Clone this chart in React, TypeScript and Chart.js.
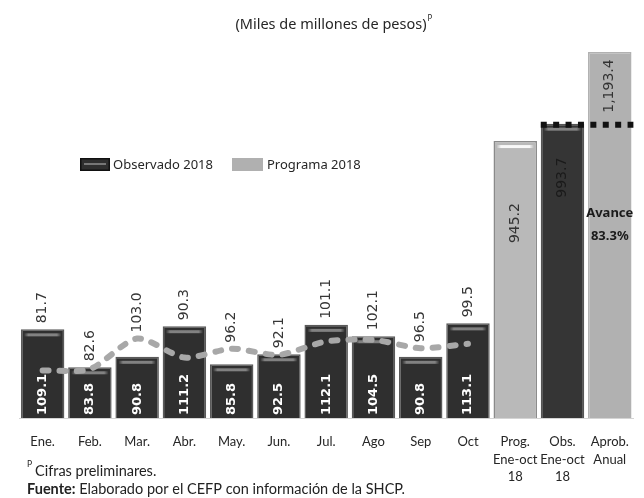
import React, { useEffect, useRef } from "react";
import { Chart, registerables } from "chart.js";

Chart.register(...registerables);

// ---- data ----
const months = ["Ene.", "Feb.", "Mar.", "Abr.", "May.", "Jun.", "Jul.", "Ago", "Sep", "Oct"];
const summaryLabels = [["Prog.", "Ene-oct", "18"], ["Obs.", "Ene-oct", "18"], ["Aprob.", "Anual"]];
const observado2018 = [109.1, 83.8, 90.8, 111.2, 85.8, 92.5, 112.1, 104.5, 90.8, 113.1];
const programa2018 = [81.7, 82.6, 103.0, 90.3, 96.2, 92.1, 101.1, 102.1, 96.5, 99.5];
const acumulado = [945.2, 993.7, 1193.4]; // Prog. ene-oct, Obs. ene-oct, Aprob. anual
const titleText = "(Miles de millones de pesos)";
const legendLabels = ["Observado 2018", "Programa 2018"];
const footnote1 = "Cifras preliminares.";
const sourceBold = "Fuente:";
const sourceText = " Elaborado por el CEFP con información de la SHCP.";
const avanceLabel = "Avance";

// ---- styles ----
const DARK = "#2f2f2f";
const DARK_BORDER = "#5a5a5a";
const summaryFill = ["#b9b9b9", "#353535", "#b1b1b1"];
const summaryBorder = ["#8a8a8a", "#555555", "#b1b1b1"];
const summaryBevel = ["light", "dark", ""];
const summaryLabelColor = ["#333333", "#1a1a1a", "#333333"];
const summaryLabelOffset = [82, 54, 34];

const fmt1 = (v: number) =>
  v.toLocaleString("en-US", { minimumFractionDigits: 1, maximumFractionDigits: 1 });

function drawBevel(ctx: CanvasRenderingContext2D, x: number, y: number, w: number, kind: string) {
  if (!kind) return;
  const left = x - w / 2 + 3;
  const right = x + w / 2 - 3;
  const col = kind === "dark" ? "rgba(150,150,150,0.8)" : "rgba(255,255,255,0.9)";
  const clear = kind === "dark" ? "rgba(150,150,150,0)" : "rgba(255,255,255,0)";
  const g = ctx.createLinearGradient(left, 0, right, 0);
  g.addColorStop(0, clear);
  g.addColorStop(0.12, col);
  g.addColorStop(0.88, col);
  g.addColorStop(1, clear);
  ctx.save();
  ctx.fillStyle = g;
  ctx.fillRect(left, y + 4, right - left, 3);
  ctx.restore();
}

const overlayPlugin = {
  id: "overlay",
  afterDatasetDraw(chart: any, args: any) {
    const meta = args.meta;
    if (meta.type !== "bar") return;
    const ctx = chart.ctx;
    const ds = chart.data.datasets[args.index];
    meta.data.forEach((el: any, i: number) => {
      if (ds.data[i] == null) return;
      const kind = args.index === 0 ? "dark" : summaryBevel[i - months.length];
      drawBevel(ctx, el.x, el.y, el.width, kind);
    });
  },
  afterDatasetsDraw(chart: any) {
    const ctx: CanvasRenderingContext2D = chart.ctx;
    const yS = chart.scales.y;
    const y2S = chart.scales.y2;
    const barMeta = chart.getDatasetMeta(0);
    const lineMeta = chart.getDatasetMeta(1);
    const sumMeta = chart.getDatasetMeta(2);
    const base = yS.getPixelForValue(yS.min);

    // observed values inside bars
    observado2018.forEach((v, i) => {
      const el = barMeta.data[i];
      ctx.save();
      ctx.translate(el.x, base - 3);
      ctx.rotate(-Math.PI / 2);
      ctx.font = "bold 13px 'DejaVu Sans'";
      ctx.fillStyle = "#ffffff";
      ctx.textAlign = "left";
      ctx.textBaseline = "middle";
      ctx.fillText(fmt1(v), 0, 0);
      ctx.restore();
    });

    // programmed values above
    programa2018.forEach((v, i) => {
      const el = barMeta.data[i];
      const pt = lineMeta.data[i];
      const top = Math.min(el.y, pt.y) - 6;
      ctx.save();
      ctx.translate(el.x, top);
      ctx.rotate(-Math.PI / 2);
      ctx.font = "14px 'DejaVu Sans'";
      ctx.fillStyle = "#363636";
      ctx.textAlign = "left";
      ctx.textBaseline = "middle";
      ctx.fillText(fmt1(v), 0, 0);
      ctx.restore();
    });

    // accumulated bars labels
    acumulado.forEach((v, j) => {
      const el = sumMeta.data[months.length + j];
      ctx.save();
      ctx.translate(el.x, el.y + summaryLabelOffset[j]);
      ctx.rotate(-Math.PI / 2);
      ctx.font = "14px 'DejaVu Sans'";
      ctx.fillStyle = summaryLabelColor[j];
      ctx.textAlign = "center";
      ctx.textBaseline = "middle";
      ctx.fillText(fmt1(v), 0, 0);
      ctx.restore();
    });

    // dotted marker of observed total across annual bar
    const obsEl = sumMeta.data[months.length + 1];
    const aprEl = sumMeta.data[months.length + 2];
    const yObs = y2S.getPixelForValue(acumulado[1]) + 1;
    ctx.save();
    ctx.strokeStyle = "#111111";
    ctx.lineWidth = 6;
    ctx.lineCap = "butt";
    ctx.setLineDash([6, 6.4]);
    ctx.beginPath();
    ctx.moveTo(obsEl.x - obsEl.width / 2, yObs);
    ctx.lineTo(chart.chartArea.right, yObs);
    ctx.stroke();
    ctx.restore();

    // Avance
    const pct = ((acumulado[1] / acumulado[2]) * 100).toFixed(1) + "%";
    ctx.save();
    ctx.fillStyle = "#1a1a1a";
    ctx.textAlign = "center";
    ctx.textBaseline = "middle";
    ctx.font = "bold 13px 'Noto Sans'";
    ctx.fillText(avanceLabel, aprEl.x, yObs + 89);
    ctx.fillText(pct, aprEl.x, yObs + 112);
    ctx.restore();
  },
  afterDraw(chart: any) {
    const ctx: CanvasRenderingContext2D = chart.ctx;
    ctx.save();
    // title
    ctx.fillStyle = "#262626";
    ctx.textBaseline = "middle";
    ctx.font = "14.5px 'Noto Sans'";
    const tw = ctx.measureText(titleText).width;
    const tx = 331 - tw / 2;
    ctx.textAlign = "left";
    ctx.fillText(titleText, tx, 25);
    ctx.font = "8px 'Noto Sans'";
    ctx.fillText("P", tx + tw + 1, 19);

    // legend
    ctx.fillStyle = "#111111";
    ctx.fillRect(80, 158, 30, 13);
    ctx.fillStyle = DARK;
    ctx.fillRect(81.5, 159.5, 27, 10);
    ctx.fillStyle = "rgba(150,150,150,0.7)";
    ctx.fillRect(84, 163, 22, 2);
    ctx.fillStyle = "#b0b0b0";
    ctx.fillRect(232, 158, 31, 13);
    ctx.fillStyle = "#262626";
    ctx.font = "13px 'Noto Sans'";
    ctx.fillText(legendLabels[0], 113, 165);
    ctx.fillText(legendLabels[1], 267, 165);

    // footnotes
    ctx.fillStyle = "#222222";
    ctx.font = "8.5px Lato";
    ctx.fillText("P", 27, 464);
    ctx.font = "14.5px Lato";
    ctx.fillText(footnote1, 35, 471);
    ctx.font = "bold 14.5px Lato";
    ctx.fillText(sourceBold, 27, 489);
    const bw = ctx.measureText(sourceBold).width;
    ctx.font = "14.5px Lato";
    ctx.fillText(sourceText, 27 + bw, 489);
    ctx.restore();
  },
};

export default function App() {
  const ref = useRef<HTMLCanvasElement>(null);
  useEffect(() => {
    const canvas = ref.current;
    if (!canvas) return;
    const labels: any[] = [...months, ...summaryLabels];
    const pad = summaryLabels.map(() => null);
    const lead = months.map(() => null);
    const chart = new Chart(canvas, {
      type: "bar",
      data: {
        labels,
        datasets: [
          {
            type: "bar",
            label: legendLabels[0],
            data: [...observado2018, ...pad],
            yAxisID: "y",
            backgroundColor: DARK,
            borderColor: DARK_BORDER,
            borderWidth: 1.5,
            grouped: false,
            barPercentage: 0.92,
            categoryPercentage: 1,
            order: 2,
          } as any,
          {
            type: "line",
            label: legendLabels[1],
            data: [...programa2018, ...pad],
            yAxisID: "y",
            borderColor: "#a8a8a8",
            borderWidth: 6,
            borderDash: [6, 11],
            borderCapStyle: "round",
            pointRadius: 0,
            tension: 0.25,
            fill: false,
            order: 0,
          } as any,
          {
            type: "bar",
            label: "Acumulado",
            data: [...lead, ...acumulado],
            yAxisID: "y2",
            backgroundColor: (c: any) => summaryFill[c.dataIndex - months.length] || DARK,
            borderColor: (c: any) => summaryBorder[c.dataIndex - months.length] || DARK_BORDER,
            borderWidth: 1.5,
            grouped: false,
            barPercentage: 0.92,
            categoryPercentage: 1,
            order: 1,
          } as any,
        ],
      },
      options: {
        responsive: false,
        animation: false,
        devicePixelRatio: 1,
        layout: { padding: { top: 40, left: 19, right: 3, bottom: 0 } },
        plugins: {
          legend: { display: false },
          tooltip: { enabled: false },
          title: { display: false },
        },
        scales: {
          x: {
            grid: { display: true, drawOnChartArea: false, drawTicks: false },
            border: { display: true, color: "#d4d4d4", width: 1 },
            ticks: {
              autoSkip: false,
              maxRotation: 0,
              minRotation: 0,
              padding: 15,
              color: "#262626",
              font: { family: "Lato", size: 13, lineHeight: 1.35 },
            },
            afterFit: (s: any) => {
              s.height = 80;
            },
          },
          y: { display: false, min: 50, max: 302 },
          y2: { display: false, min: 173, max: 1227, position: "right" },
        },
      } as any,
      plugins: [overlayPlugin],
    });
    return () => chart.destroy();
  }, []);
  return (
    <div style={{ position: "fixed", left: 0, top: 0, width: 644, height: 498, background: "#ffffff" }}>
      <canvas ref={ref} width={644} height={498} style={{ display: "block" }} />
    </div>
  );
}
